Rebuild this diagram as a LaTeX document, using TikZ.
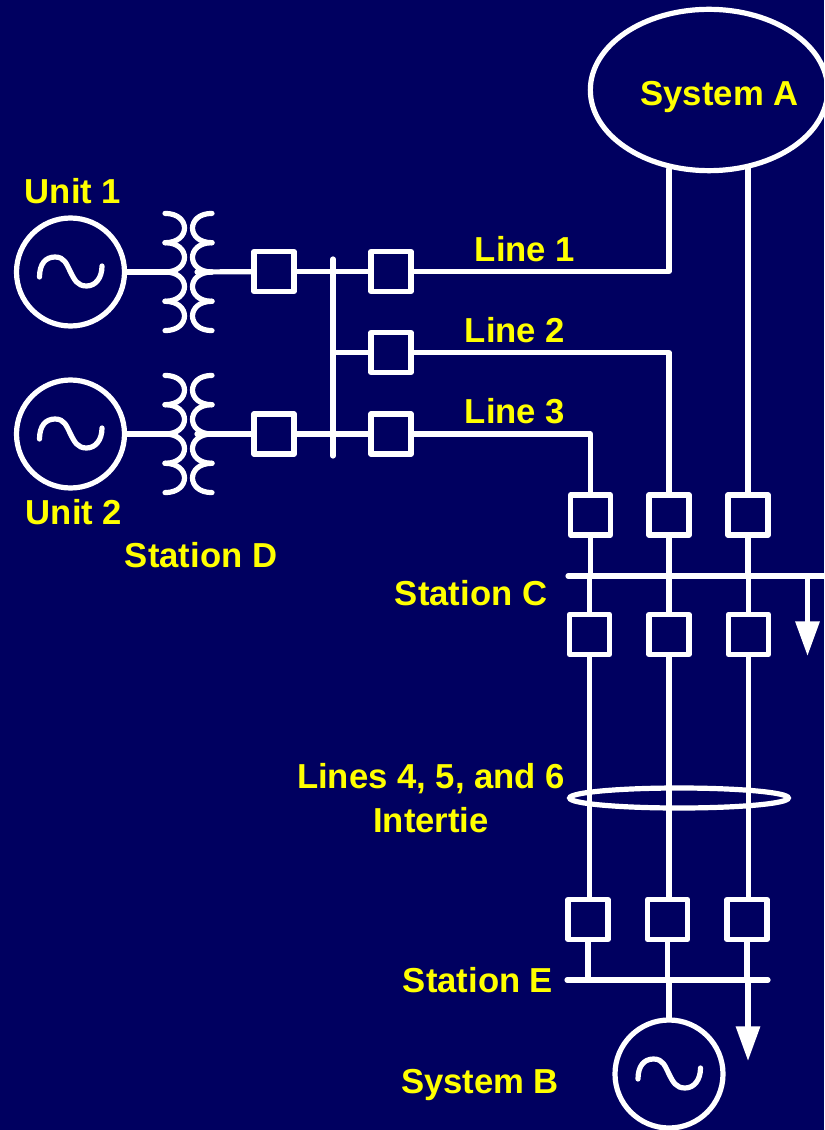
\documentclass[tikz,border=0pt]{standalone}
\usepackage{fontspec}
\setmainfont{Liberation Sans}
\usetikzlibrary{shapes.geometric,arrows.meta}
\definecolor{slidebg}{HTML}{000060}
\definecolor{slideyellow}{HTML}{FFFF00}
\tikzset{
  wire/.style={draw=white,line width=3.9pt,line cap=round,line join=round},
  breaker/.style={draw=white,line width=3.9pt,line join=round,minimum size=30pt,inner sep=0pt},
  gen/.style={draw=white,line width=3.9pt,circle,minimum size=81pt,inner sep=0pt},
  lab/.style={text=slideyellow,font=\fontsize{26}{31}\selectfont\bfseries,inner sep=0pt},
  flow/.style={wire,line cap=butt,-{Triangle[length=26pt,width=17.5pt]}}
}
\newcommand{\sinewave}[1]{
  \begin{scope}[shift={(#1)}]
    \draw[wire] (-31,5) .. controls (-31,-8) and (-25,-15) .. (-15.5,-15)
      .. controls (-6,-15) and (-4,-8) .. (0,0)
      .. controls (4,8) and (7,14) .. (16,14)
      .. controls (25,14) and (31.5,6) .. (31.5,-6);
  \end{scope}
}
\newcommand{\coilpair}[1]{
  % #1 is the middle height of the transformer
  \foreach \k in {-2,-1,0,1}{
    \draw[wire] (165,#1+\k*29.3) .. controls (191,#1+\k*29.3) and (191,#1+\k*29.3+29.3) .. (165,#1+\k*29.3+29.3);
    \draw[wire] (212,#1+\k*29.3) .. controls (186,#1+\k*29.3) and (186,#1+\k*29.3+29.3) .. (212,#1+\k*29.3+29.3);
  }
}
\begin{document}
\begin{tikzpicture}[x=0.75pt,y=-0.75pt]
  \useasboundingbox[fill=slidebg] (0,0) rectangle (824,1130);

  % generators and big shapes
  \node[gen] (unita) at (70.5,272) {};
  \node[gen] (unitb) at (70.5,434) {};
  \node[gen] (sysb) at (669,1074) {};
  \node[draw=white,line width=3.9pt,ellipse,minimum width=178pt,minimum height=121pt,inner sep=0pt] (sysa) at (709,90) {};
  \sinewave{unita}
  \sinewave{unitb}
  \sinewave{sysb}

  \coilpair{272}
  \coilpair{434}
  \coordinate (xaw) at (175,272);
  \coordinate (xae) at (197,272);
  \coordinate (xbw) at (175,434);
  \coordinate (xbe) at (197,434);

  % breakers
  \node[breaker] (da) at (274,271.5) {};
  \node[breaker] (db) at (274,434) {};
  \node[breaker] (la) at (391,271.5) {};
  \node[breaker] (lb) at (391,352.5) {};
  \node[breaker] (lc) at (391,434) {};
  \node[breaker] (ca) at (590.5,515) {};
  \node[breaker] (cb) at (669,515) {};
  \node[breaker] (cc) at (748,515) {};
  \node[breaker] (cd) at (589.5,634.5) {};
  \node[breaker] (ce) at (669,634.5) {};
  \node[breaker] (cf) at (748.5,634.5) {};
  \node[breaker] (ea) at (588,919.5) {};
  \node[breaker] (eb) at (667.5,919.5) {};
  \node[breaker] (ec) at (747,919.5) {};

  % buses
  \coordinate (dtop) at (333,259);
  \coordinate (dbot) at (333,456);
  \coordinate (cwest) at (568,576);
  \coordinate (ceast) at (824,576);
  \coordinate (ewest) at (567,980);
  \coordinate (eeast) at (768,980);
  \draw[wire] (dtop) -- (dbot);
  \draw[wire] (cwest) -- (ceast);
  \draw[wire] (ewest) -- (eeast);

  % station D
  \draw[wire] (unita) -- (xaw);
  \draw[wire] (unitb) -- (xbw);
  \draw[wire] (xae) -- (da);
  \draw[wire] (xbe) -- (db);
  \draw[wire] (da) -- (la);
  \draw[wire] (db) -- (lc);
  \draw[wire] (333,352.5) -- (lb);

  % lines 1 to 3 and the tie up to system A
  \coordinate (sysaw) at (669,169);
  \coordinate (sysae) at (748,168);
  \draw[wire] (la) -- (669,271.5) -- (sysaw);
  \draw[wire] (lb) -- (669,352.5) -- (cb);
  \draw[wire] (lc) -- (590.5,434) -- (ca);
  \draw[wire] (sysae) -- (cc);

  % station C
  \draw[wire] (ca.south) -- (ca.south |- cwest);
  \draw[wire] (cd.north) -- (cd.north |- cwest);
  \draw[wire] (cb) -- (ce);
  \draw[wire] (cc.south) -- (cc.south |- cwest);
  \draw[wire] (cf.north) -- (cf.north |- cwest);
  \coordinate (loadc) at (807.5,576);
  \coordinate (loadctip) at (807.5,656);
  \draw[flow] (loadc) -- (loadctip);

  % intertie
  \draw[wire] (cd.south) -- (cd.south |- ea.north);
  \draw[wire] (ce.south) -- (ce.south |- eb.north);
  \draw[wire] (cf.south) -- (cf.south |- ec.north);
  \node[draw=white,line width=3.9pt,ellipse,minimum width=164pt,minimum height=15pt,inner sep=0pt] (tie) at (679,798) {};

  % station E
  \coordinate (eajoin) at (588,980);
  \coordinate (ebjoin) at (667.5,980);
  \coordinate (ecjoin) at (747,980);
  \coordinate (sysbjoin) at (669,980);
  \coordinate (loade) at (748,980);
  \coordinate (loadetip) at (748,1061);
  \draw[wire] (ea) -- (eajoin);
  \draw[wire] (eb) -- (ebjoin);
  \draw[wire] (ec) -- (ecjoin);
  \draw[wire] (sysbjoin) -- (sysb);
  \draw[flow] (loade) -- (loadetip);

  % labels
  \node[lab] (sysalab) at (719.5,97) {System A};
  \node[lab] (unitalab) at (73,191) {Unit 1};
  \node[lab] (unitblab) at (74,512) {Unit 2};
  \node[lab] (stdlab) at (201,555) {Station D};
  \node[lab] (lalab) at (525,249) {Line 1};
  \node[lab] (lblab) at (515,330) {Line 2};
  \node[lab] (lclab) at (515,411) {Line 3};
  \node[lab] (stclab) at (471,593) {Station C};
  \node[lab] (tiealab) at (431,779) {Lines 4, 5, and 6};
  \node[lab] (tieblab) at (431,820) {Intertie};
  \node[lab] (stelab) at (478,980) {Station E};
  \node[lab] (sysblab) at (480,1085) {System B};
\end{tikzpicture}
\end{document}
